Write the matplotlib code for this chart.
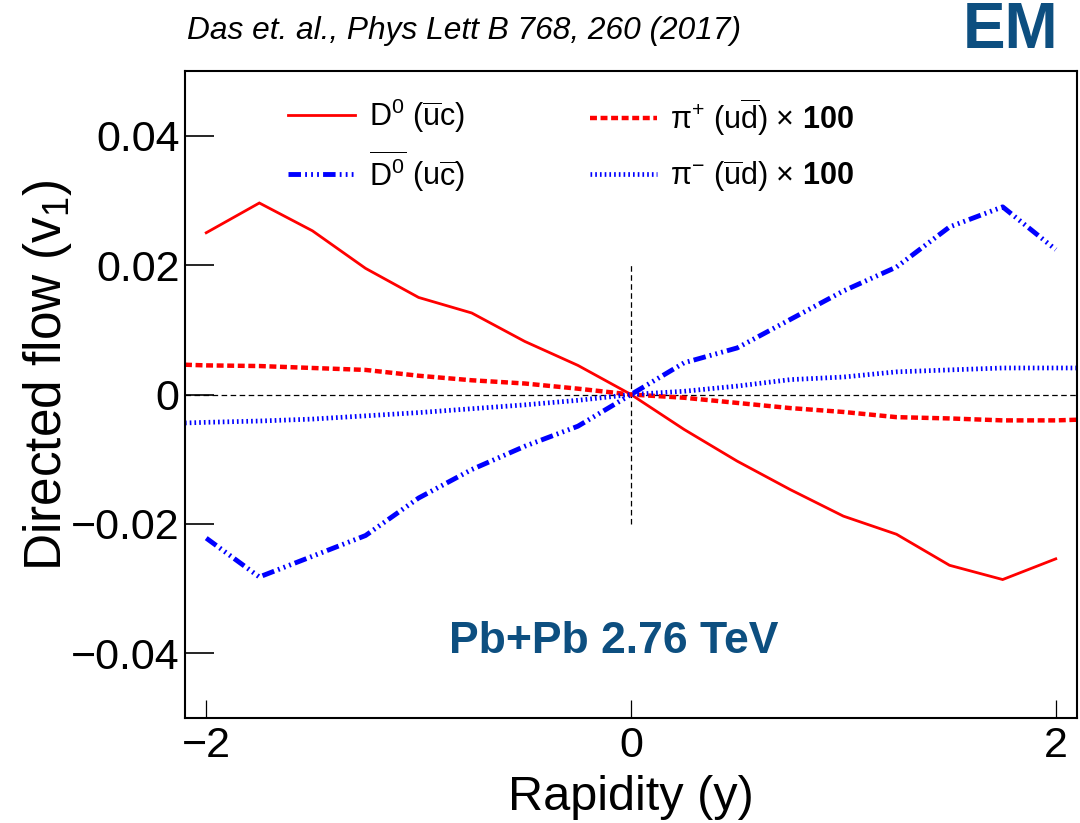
import numpy as np
import matplotlib
matplotlib.use('Agg')
import matplotlib.pyplot as plt

plt.rcParams['font.family'] = ['Liberation Sans', 'DejaVu Sans']
plt.rcParams['mathtext.fontset'] = 'custom'
plt.rcParams['mathtext.rm'] = 'Liberation Sans'
plt.rcParams['mathtext.it'] = 'Liberation Sans:italic'
plt.rcParams['mathtext.bf'] = 'Liberation Sans:bold'
plt.rcParams['lines.scale_dashes'] = False

# Rapidity grid for D mesons.
rap_d = [-2.0, -1.75, -1.5, -1.25, -1.0, -0.75, -0.5, -0.25, 0.0,
         0.25, 0.5, 0.75, 1.0, 1.25, 1.5, 1.75, 2.0]
v1_d0 = [0.0250, 0.0296, 0.0253, 0.0195, 0.0150, 0.0126, 0.0082, 0.0045, 0.0,
         -0.0054, -0.0103, -0.0147, -0.0188, -0.0216, -0.0264, -0.0286, -0.0254]
v1_d0bar = [-0.0222, -0.0282, -0.0250, -0.0218, -0.0160, -0.0116, -0.0080, -0.0049, 0.0,
            0.0049, 0.0072, 0.0116, 0.0160, 0.0197, 0.0259, 0.0290, 0.0224]

# Rapidity grid for pions (extends to the frame edges).
rap_pi = [-2.1, -2.0, -1.75, -1.5, -1.25, -1.0, -0.75, -0.5, -0.25, 0.0,
          0.25, 0.5, 0.75, 1.0, 1.25, 1.5, 1.75, 2.0, 2.1]
v1_piplus = [0.0046, 0.0045, 0.0044, 0.0041, 0.0038, 0.0029, 0.0022, 0.0017, 0.0009, 0.0,
             -0.0005, -0.0013, -0.0021, -0.0027, -0.0035, -0.0037, -0.0040, -0.0040, -0.0039]
v1_piminus = [-0.0044, -0.0043, -0.0041, -0.0038, -0.0033, -0.0028, -0.0022, -0.0016, -0.0009, 0.0,
              0.0005, 0.0013, 0.0023, 0.0027, 0.0035, 0.0038, 0.0041, 0.0041, 0.0041]

blue_txt = '#0d4f80'

fig = plt.figure(figsize=(10.8, 8.23), dpi=100)
ax = fig.add_axes([185 / 1080, 1 - 718 / 823, 892 / 1080, 647 / 823])

l_d0, = ax.plot(rap_d, v1_d0, color='#ff0000', lw=2.0, solid_joinstyle='miter')
l_d0bar, = ax.plot(rap_d, v1_d0bar, color='#0000ff', lw=3.5,
                   dashes=(9, 3, 1.3, 3, 1.3, 3, 1.3, 3))
l_pip, = ax.plot(rap_pi, v1_piplus, color='#ff0000', lw=3.2, dashes=(5, 2.6))
l_pim, = ax.plot(rap_pi, v1_piminus, color='#0000ff', lw=3.4, dashes=(1.2, 2.2))

# Reference lines.
ax.axhline(0, color='black', lw=0.9, dashes=(4, 2.5), zorder=1)
ax.plot([0, 0], [-0.02, 0.02], color='black', lw=0.9, dashes=(4, 2.5), zorder=1)

ax.set_xlim(-2.1, 2.1)
ax.set_ylim(-0.05, 0.05)
ax.set_xticks([-2, 0, 2])
ax.set_yticks([-0.04, -0.02, 0, 0.02, 0.04])
ax.set_yticklabels(['\u22120.04', '\u22120.02', '0', '0.02', '0.04'])
ax.set_xticklabels(['\u22122', '0', '2'])
ax.tick_params(axis='y', direction='in', length=21, width=1.2, labelsize=31, pad=4)
ax.tick_params(axis='x', direction='in', length=13, width=0.9, labelsize=31, pad=6)
for s in ax.spines.values():
    s.set_linewidth(1.5)

ax.set_xlabel('Rapidity (y)', fontsize=35)
ax.xaxis.set_label_coords(0.5, -0.088)
ax.set_ylabel(r'Directed flow (v$_1$)', fontsize=37)
ax.yaxis.set_label_coords(-0.124, 0.53)

# Two legend columns, D mesons and pions.
leg_kw = dict(loc='upper left', frameon=False, fontsize=22, handlelength=2.2,
              handletextpad=0.45, borderpad=0, borderaxespad=0)
leg_d = ax.legend([l_d0, l_d0bar],
                  [r'D$^0$ ($\overline{\mathrm{u}}$c)',
                   r'$\overline{\mathrm{D}^0}$ (u$\overline{\mathrm{c}}$)'],
                  bbox_to_anchor=(0.1155, 0.961), labelspacing=0.45, **leg_kw)
ax.add_artist(leg_d)
ax.legend([l_pip, l_pim],
          [r'$\mathrm{\pi}^{+}$ (u$\overline{\mathrm{d}}$) $\times$ $\mathbf{100}$',
           r'$\mathrm{\pi}^{-}$ ($\overline{\mathrm{u}}$d) $\times$ $\mathbf{100}$'],
          bbox_to_anchor=(0.4535, 0.961), labelspacing=0.68, **leg_kw)

ax.text(0.4804, 0.1, 'Pb+Pb 2.76 TeV', transform=ax.transAxes, fontsize=32,
        fontweight='bold', color=blue_txt, ha='center', va='baseline')

fig.text(187 / 1080, 1 - 39 / 823, 'Das et. al., Phys Lett B 768, 260 (2017)',
         fontsize=22.8, style='italic', ha='left', va='baseline')
fig.text(1058 / 1080, 1 - 48 / 823, 'EM', fontsize=46, fontweight='bold',
         color=blue_txt, ha='right', va='baseline')

fig.savefig('out.png', dpi=100)
